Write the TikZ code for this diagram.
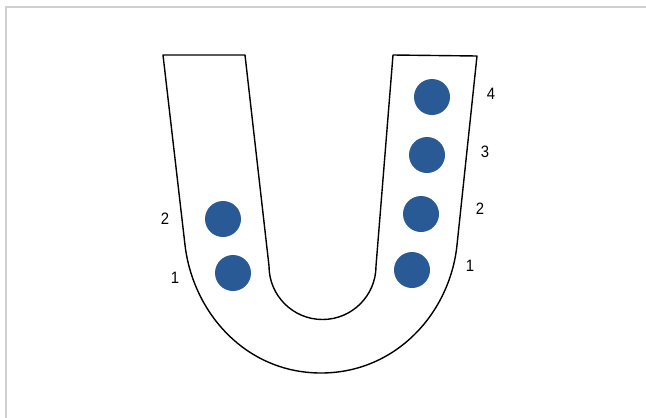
\documentclass[tikz,border=0pt]{standalone}
\usepackage{fontspec}
\setmainfont{Liberation Sans}
\definecolor{dotblue}{HTML}{2A5A96}
\definecolor{framegray}{HTML}{D0D0D0}
\begin{document}
\begin{tikzpicture}[x=1pt,y=-1pt,
  outline/.style={draw=black,line width=1.4pt,line join=round},
  tooth/.style={circle,fill=dotblue,minimum size=36pt,inner sep=0pt},
  lbl/.style={font=\fontsize{16.5}{16.5}\selectfont,inner sep=0pt,xscale=0.9}]
\useasboundingbox (0,0) rectangle (646,418);
\draw[framegray,line width=1.5pt] (6,418) -- (6,7) -- (646,7);
% U shape
\draw[outline]
  (163,55) -- (245,55) -- (269,266)
  arc[start angle=180,end angle=0,radius=53.5]
  -- (393,55) -- (477,56) -- (457,245)
  .. controls (450,313) and (396,373) .. (321,373)
  .. controls (246,373) and (193,313) .. (185,245) -- cycle;
% dots
\node[tooth] (l2) at (223,219) {};
\node[tooth] (l1) at (233,273) {};
\node[tooth] (r4) at (432,97) {};
\node[tooth] (r3) at (427,155) {};
\node[tooth] (r2) at (421,214) {};
\node[tooth] (r1) at (412,270) {};
% labels
\node[lbl] (tl2) at (165,219) {2};
\node[lbl] (tl1) at (175,278) {1};
\node[lbl] (tr4) at (491,94) {4};
\node[lbl] (tr3) at (485,152) {3};
\node[lbl] (tr2) at (480,209) {2};
\node[lbl] (tr1) at (470,266) {1};
\end{tikzpicture}
\end{document}
